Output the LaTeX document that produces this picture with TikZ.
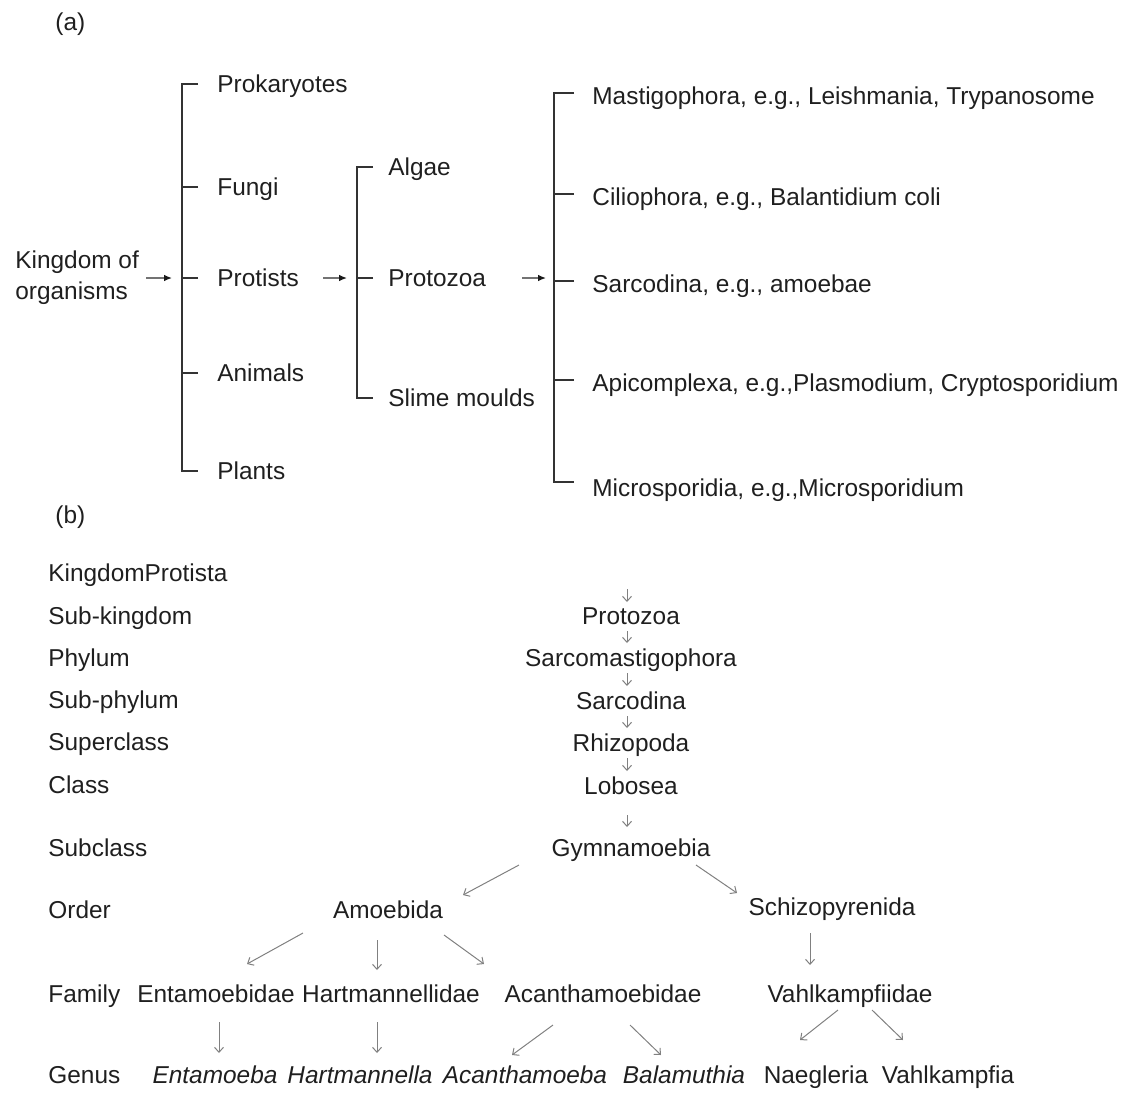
\documentclass[tikz,border=0pt]{standalone}
\usepackage{fontspec}
\setmainfont{Liberation Sans}
\usetikzlibrary{arrows.meta, calc, positioning}

\begin{document}
\begin{tikzpicture}[x=0.5pt, y=-0.5pt,
  every node/.style={font=\fontsize{12.2}{15.5}\selectfont, text=black!88, inner sep=0pt},
  lab/.style={anchor=west, text height=9pt, text depth=1pt},
  mid/.style={anchor=center, text height=9pt, text depth=1pt},
  br/.style={line width=1pt, black!80},
  arr/.style={line width=0.75pt, black!55, -{Latex[length=4pt,width=3.4pt,color=black!90]}},
  sarr/.style={line width=0.5pt, black!50, -{Straight Barb[length=2.5pt,width=4.5pt]}}]
\useasboundingbox (0,0) rectangle (1123,1093);

% (a) classification of the kingdom
\begin{scope}
\node[lab] (pa) at (55,22) {(a)};
\node[anchor=west, align=left] (kingdom) at (15,278) {Kingdom of\\organisms};
\node[lab] (prok) at (217,84) {Prokaryotes};
\node[lab] (fungi) at (217,187) {Fungi};
\node[lab] (protists) at (217,278) {Protists};
\node[lab] (animals) at (217,373) {Animals};
\node[lab] (plants) at (217,471) {Plants};
\node[lab] (algae) at (388,167) {Algae};
\node[lab] (protozoa) at (388,278) {Protozoa};
\node[lab] (slime) at (388,398) {Slime moulds};
\node[lab] (mastig) at (592,96) {Mastigophora, e.g., Leishmania, Trypanosome};
\node[lab] (cilio) at (592,197) {Ciliophora, e.g., Balantidium coli};
\node[lab] (sarco) at (592,284) {Sarcodina, e.g., amoebae};
\node[lab] (apicom) at (592,383) {Apicomplexa, e.g.,Plasmodium, Cryptosporidium};
\node[lab] (micro) at (592,488) {Microsporidia, e.g.,Microsporidium};

\draw[br] ([shift={(-19,0)}]prok.west) -- ++(-16,0) |- ([shift={(-19,0)}]plants.west);
\foreach \n in {fungi,protists,animals} \draw[br] ([shift={(-19,0)}]\n.west) -- ++(-16,0);
\draw[br] ([shift={(-15,0)}]algae.west) -- ++(-16,0) |- ([shift={(-15,0)}]slime.west);
\draw[br] ([shift={(-15,0)}]protozoa.west) -- ++(-16,0);
\draw[br] ([shift={(-18,-3)}]mastig.west) -- ++(-20,0) |- ([shift={(-18,-6)}]micro.west);
\foreach \n in {cilio,sarco,apicom} \draw[br] ([shift={(-18,-3)}]\n.west) -- ++(-20,0);

\draw[arr, shorten <=3.5pt, shorten >=22.5pt] (kingdom.east) -- (protists.west);
\draw[arr, shorten <=12pt, shorten >=20.5pt] (protists.east) -- (protozoa.west);
\draw[arr, shorten <=18pt, shorten >=23pt] (protozoa.east) -- (protozoa.east -| sarco.west);
\end{scope}

% (b) taxonomy of the free-living amoebae
\begin{scope}
\node[lab] (pb) at (55,515) {(b)};
\foreach \t/\y [count=\i] in {KingdomProtista/573, Sub-kingdom/616, Phylum/658, Sub-phylum/700,
    Superclass/742, Class/785, Subclass/848, Order/910, Family/994, Genus/1075}
  \node[lab] (rank\i) at (48,\y) {\t};

\node[mid] (protozoab) at (631,616) {Protozoa};
\node[mid] (sarcomast) at (631,658) {Sarcomastigophora};
\node[mid] (sarcodina) at (631,701) {Sarcodina};
\node[mid] (rhizo) at (631,743) {Rhizopoda};
\node[mid] (lobosea) at (631,786) {Lobosea};
\node[mid] (gym) at (631,848) {Gymnamoebia};
\node[mid] (amoebida) at (388,910) {Amoebida};
\node[mid] (schizo) at (832,907) {Schizopyrenida};
\node[mid] (entam) at (216,994) {Entamoebidae};
\node[mid] (hartm) at (391,994) {Hartmannellidae};
\node[mid] (acanth) at (603,994) {Acanthamoebidae};
\node[mid] (vahlf) at (850,994) {Vahlkampfiidae};
\node[mid] (entamoeba) at (215,1075) {\itshape Entamoeba};
\node[mid] (hartmannella) at (360,1075) {\itshape Hartmannella};
\node[mid] (acanthamoeba) at (525,1075) {\itshape Acanthamoeba};
\node[mid] (balamuthia) at (684,1075) {\itshape Balamuthia};
\node[mid] (naegleria) at (816,1075) {Naegleria};
\node[mid] (vahlkampfia) at (948,1075) {Vahlkampfia};

\coordinate (kp) at (627,589);
\draw[sarr] (kp) -- ([shift={(-4,-14)}]protozoab.center);
\foreach \a/\b in {protozoab/sarcomast, sarcomast/sarcodina, sarcodina/rhizo, rhizo/lobosea}
  \draw[sarr] ([shift={(-4,15)}]\a.center) -- ([shift={(-4,-15)}]\b.center);
\draw[sarr] ([shift={(-4,29)}]lobosea.center) -- ([shift={(-4,-21)}]gym.center);

\draw[sarr] ([shift={(-112,17)}]gym.center) -- ([shift={(75,-15)}]amoebida.center);
\draw[sarr] ([shift={(65,17)}]gym.center) -- ([shift={(-95,-14)}]schizo.center);
\draw[sarr] ([shift={(-85,23)}]amoebida.center) -- ([shift={(31,-30)}]entam.center);
\draw[sarr] ([shift={(-11,30)}]amoebida.center) -- ([shift={(-14,-24)}]hartm.center);
\draw[sarr] ([shift={(56,25)}]amoebida.center) -- ([shift={(-119,-30)}]acanth.center);
\draw[sarr] ([shift={(-22,26)}]schizo.center) -- ([shift={(-40,-29)}]vahlf.center);
\draw[sarr] ([shift={(3,28)}]entam.center) -- ([shift={(4,-22)}]entamoeba.center);
\draw[sarr] ([shift={(-14,28)}]hartm.center) -- ([shift={(17,-22)}]hartmannella.center);
\draw[sarr] ([shift={(-50,31)}]acanth.center) -- ([shift={(-13,-20)}]acanthamoeba.center);
\draw[sarr] ([shift={(27,31)}]acanth.center) -- ([shift={(-23,-20)}]balamuthia.center);
\draw[sarr] ([shift={(-12,16)}]vahlf.center) -- ([shift={(-16,-35)}]naegleria.center);
\draw[sarr] ([shift={(22,16)}]vahlf.center) -- ([shift={(-45,-35)}]vahlkampfia.center);
\end{scope}
\end{tikzpicture}
\end{document}
